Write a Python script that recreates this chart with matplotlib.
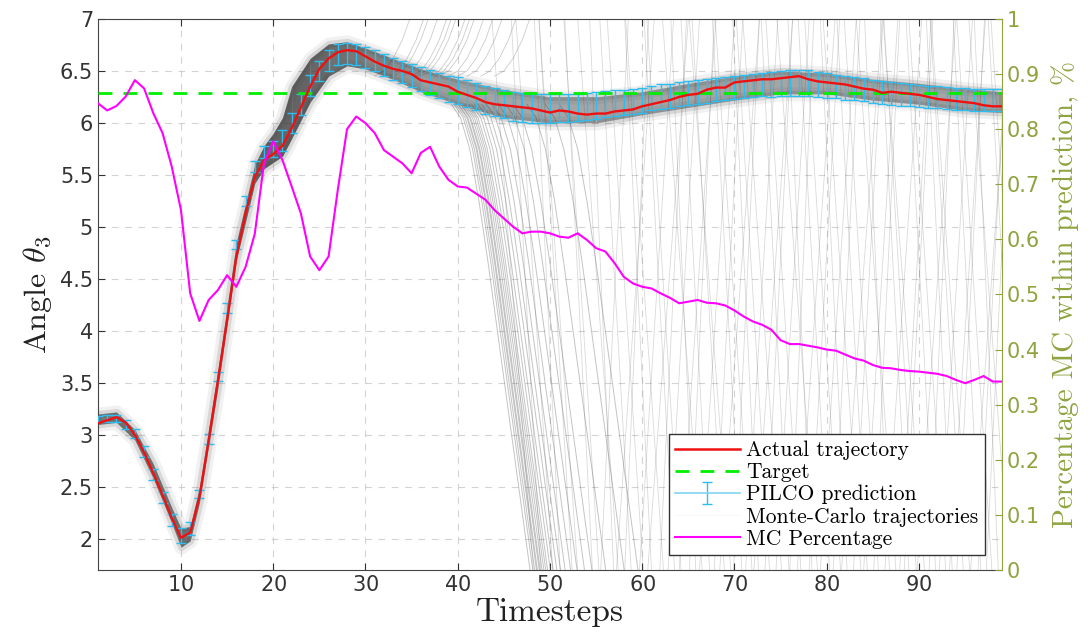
import numpy as np
import matplotlib
matplotlib.use('Agg')
import matplotlib.pyplot as plt
from matplotlib.lines import Line2D

# ---- datos ----
timesteps = np.arange(1, 100)

actual = [3.11, 3.14, 3.17, 3.12, 3.00, 2.83, 2.63, 2.42, 2.20, 2.01,
          2.06, 2.40, 2.94, 3.52, 4.10, 4.71, 5.13, 5.48, 5.64, 5.70,
          5.78, 5.95, 6.15, 6.35, 6.52, 6.62, 6.68, 6.70, 6.69, 6.64,
          6.59, 6.55, 6.52, 6.50, 6.47, 6.41, 6.39, 6.37, 6.35, 6.30,
          6.27, 6.24, 6.20, 6.18, 6.17, 6.16, 6.15, 6.14, 6.12, 6.10,
          6.12, 6.11, 6.09, 6.08, 6.09, 6.09, 6.11, 6.12, 6.13, 6.16,
          6.18, 6.20, 6.22, 6.25, 6.27, 6.28, 6.32, 6.34, 6.34, 6.39,
          6.40, 6.41, 6.42, 6.42, 6.43, 6.44, 6.45, 6.42, 6.40, 6.39,
          6.38, 6.37, 6.35, 6.33, 6.32, 6.29, 6.30, 6.29, 6.28, 6.27,
          6.25, 6.23, 6.22, 6.21, 6.20, 6.19, 6.17, 6.16, 6.16]

pilco_mean = [3.15, 3.16, 3.16, 3.10, 3.01, 2.84, 2.62, 2.40, 2.18, 2.03,
              2.10, 2.43, 2.96, 3.56, 4.22, 4.83, 5.25, 5.58, 5.72, 5.75,
              5.83, 6.00, 6.18, 6.36, 6.50, 6.60, 6.66, 6.67, 6.66, 6.63,
              6.60, 6.56, 6.52, 6.49, 6.46, 6.42, 6.39, 6.36, 6.33, 6.31,
              6.28, 6.25, 6.22, 6.20, 6.18, 6.16, 6.15, 6.14, 6.14, 6.14,
              6.14, 6.14, 6.15, 6.16, 6.17, 6.18, 6.19, 6.20, 6.21, 6.22,
              6.24, 6.25, 6.26, 6.28, 6.29, 6.30, 6.31, 6.32, 6.33, 6.34,
              6.35, 6.36, 6.37, 6.37, 6.38, 6.38, 6.38, 6.38, 6.37, 6.36,
              6.35, 6.34, 6.33, 6.32, 6.30, 6.29, 6.28, 6.27, 6.27, 6.26,
              6.25, 6.25, 6.24, 6.23, 6.23, 6.22, 6.22, 6.22, 6.22]

pilco_err = [0.03, 0.035, 0.035, 0.04, 0.045, 0.05, 0.05, 0.055, 0.06, 0.07,
             0.065, 0.04, 0.045, 0.045, 0.045, 0.045, 0.045, 0.05, 0.06, 0.08,
             0.10, 0.10, 0.10, 0.10, 0.10, 0.10, 0.10, 0.10, 0.10, 0.10,
             0.10, 0.105, 0.105, 0.11, 0.11, 0.115, 0.12, 0.12, 0.125, 0.13,
             0.13, 0.13, 0.135, 0.135, 0.135, 0.14, 0.14, 0.14, 0.14, 0.14,
             0.135, 0.135, 0.13, 0.13, 0.13, 0.125, 0.125, 0.12, 0.12, 0.12,
             0.12, 0.12, 0.115, 0.115, 0.115, 0.115, 0.115, 0.11, 0.11, 0.11,
             0.11, 0.11, 0.115, 0.12, 0.12, 0.125, 0.125, 0.125, 0.12, 0.12,
             0.115, 0.115, 0.11, 0.11, 0.11, 0.11, 0.11, 0.11, 0.105, 0.105,
             0.105, 0.105, 0.105, 0.105, 0.105, 0.105, 0.105, 0.105, 0.105]

mc_percent = [0.847, 0.834, 0.842, 0.859, 0.889, 0.874, 0.829, 0.793, 0.732, 0.653,
              0.502, 0.452, 0.490, 0.508, 0.535, 0.514, 0.550, 0.610, 0.738, 0.778,
              0.744, 0.696, 0.647, 0.569, 0.544, 0.569, 0.690, 0.800, 0.823, 0.811,
              0.793, 0.762, 0.750, 0.738, 0.720, 0.757, 0.768, 0.732, 0.708, 0.696,
              0.694, 0.683, 0.672, 0.653, 0.638, 0.623, 0.611, 0.614, 0.614, 0.611,
              0.605, 0.603, 0.611, 0.599, 0.584, 0.578, 0.557, 0.532, 0.520, 0.514,
              0.511, 0.502, 0.494, 0.484, 0.487, 0.490, 0.485, 0.484, 0.480, 0.471,
              0.460, 0.451, 0.445, 0.436, 0.417, 0.410, 0.410, 0.407, 0.404, 0.400,
              0.398, 0.391, 0.384, 0.380, 0.372, 0.367, 0.366, 0.363, 0.361, 0.360,
              0.358, 0.356, 0.352, 0.345, 0.339, 0.345, 0.352, 0.342, 0.342]

target = 6.2832

# banda densa de trayectorias Monte-Carlo (limites y oscuridad)
mc_t = [1, 3, 5, 7, 9, 10, 11, 12, 14, 16, 18, 19, 20, 21, 22, 24, 26, 28, 30,
        33, 36, 40, 45, 50, 55, 60, 65, 70, 75, 80, 85, 90, 95, 99]
mc_hi = [3.20, 3.22, 3.05, 2.72, 2.30, 2.10, 2.12, 2.50, 3.62, 4.85, 5.60, 5.78, 5.90,
         6.05, 6.35, 6.62, 6.76, 6.78, 6.72, 6.62, 6.52, 6.42, 6.32, 6.25, 6.25, 6.30,
         6.38, 6.45, 6.50, 6.48, 6.42, 6.38, 6.33, 6.30]
mc_lo = [3.10, 3.12, 2.95, 2.58, 2.15, 1.92, 1.98, 2.35, 3.45, 4.68, 5.42, 5.56, 5.62,
         5.68, 5.85, 6.20, 6.45, 6.55, 6.52, 6.42, 6.30, 6.18, 6.05, 6.00, 6.00, 6.08,
         6.15, 6.22, 6.28, 6.28, 6.22, 6.18, 6.12, 6.10]
mc_shade = [0.55, 0.55, 0.55, 0.55, 0.55, 0.6, 0.6, 0.55, 0.55, 0.6, 0.65, 0.7, 0.7,
            0.7, 0.7, 0.7, 0.65, 0.6, 0.55, 0.45, 0.38, 0.32, 0.3, 0.3, 0.3, 0.3,
            0.3, 0.3, 0.3, 0.3, 0.3, 0.3, 0.3, 0.3]

# trayectorias que caen desde la banda (forma y tiempos de inicio)
fall_steps = [0, 1, 2, 3, 4, 5, 6, 7, 8, 9, 10]
fall_angle = [6.18, 6.05, 5.75, 5.25, 4.65, 4.00, 3.35, 2.70, 2.05, 1.40, 0.70]
fall_start = [39.3, 39.6, 39.8, 40.0, 40.1, 40.3, 40.4, 40.6, 40.8, 41.0, 41.2,
              41.5, 41.8, 42.2, 42.6, 43.1, 43.7, 44.4, 45.2, 46.0, 47.5, 49.5, 51.0]

# trayectorias que suben desde la banda
rise_steps = [0, 1, 2, 3, 4, 5]
rise_angle = [6.45, 6.50, 6.62, 6.80, 7.05, 7.35]
rise_start = [31.0, 32.5, 33.0, 34.0, 35.0, 35.5, 36.0, 37.0, 37.5, 38.0, 39.0,
              40.0, 41.0, 42.5, 44.0]

# trayectorias que giran: tiempo en angulo 1.7 y tiempo en angulo 7.0
spin_a_low = [48.2, 49.0, 50.3, 51.1, 52.4, 53.0, 54.6, 55.3, 56.9, 57.4, 58.8, 60.1,
              61.0, 62.3, 63.5, 64.2, 65.8, 66.5, 67.3, 68.9, 69.6, 70.8, 71.9, 72.6,
              73.8, 75.1, 75.9, 77.2, 78.4, 79.0, 80.3, 81.5, 82.2, 83.7, 84.4, 85.6,
              86.8, 87.5, 88.9, 89.7, 90.6, 91.8, 92.9, 93.6, 94.8, 95.5, 96.7, 97.9,
              98.6, 99.8, 100.9, 101.7]
spin_a_high = [43.7, 45.8, 46.3, 48.3, 48.8, 48.8, 51.6, 51.5, 54.3, 53.0, 55.4, 56.2,
               58.1, 58.2, 60.2, 60.5, 63.1, 62.2, 64.2, 65.4, 65.1, 67.6, 67.9, 69.8,
               70.2, 70.9, 72.9, 73.4, 75.8, 74.6, 76.9, 77.6, 79.3, 79.6, 81.1, 81.9,
               84.1, 83.2, 85.8, 86.2, 86.1, 88.6, 88.9, 90.8, 91.2, 91.3, 93.7, 94.1,
               96.0, 95.4, 97.5, 97.8]
spin_b_low = [55.5, 57.2, 58.1, 59.7, 60.6, 61.9, 62.8, 64.0, 65.1, 66.2, 67.8, 68.4,
              69.9, 71.2, 72.1, 73.3, 74.5, 76.0, 76.8, 78.1, 79.3, 80.7, 81.6, 82.9,
              84.0, 85.1, 86.3, 87.9, 88.4, 89.8, 91.1, 92.2, 93.3, 94.1, 95.6, 96.4,
              97.3]
spin_b_high = [58.5, 61.3, 60.7, 63.4, 65.0, 64.8, 66.2, 68.0, 67.8, 70.0, 70.9, 72.7,
               72.7, 74.7, 76.3, 76.3, 78.1, 78.6, 80.9, 81.4, 83.2, 83.6, 86.0, 86.1,
               87.7, 87.9, 90.3, 91.3, 91.5, 94.0, 93.8, 95.8, 97.2, 97.1, 99.9, 99.6,
               100.2]
spin_angle = [1.7, 7.0]

# ---- estilo ----
plt.rcParams['font.family'] = 'DejaVu Sans'
plt.rcParams['mathtext.fontset'] = 'cm'
plt.rcParams['axes.formatter.use_mathtext'] = True

cyan = '#2fbdf0'
olive = '#8fa33f'
dark = '#333333'

fig = plt.figure(figsize=(10.92, 6.32), dpi=100)
ax = fig.add_axes([0.0897, 0.0981, 0.8279, 0.8719])
ax2 = ax.twinx()

# trayectorias Monte-Carlo
for t0, t1 in zip(spin_a_low + spin_b_low, spin_a_high + spin_b_high):
    ax.plot([t0, t1], spin_angle, color='#555555', lw=0.6, alpha=0.22, zorder=1)
for s in fall_start:
    ax.plot(np.array(fall_steps) + s, fall_angle, color='#555555', lw=0.7, alpha=0.35, zorder=1)
for s in rise_start:
    ax.plot(np.array(rise_steps) + s, rise_angle, color='#555555', lw=0.6, alpha=0.3, zorder=1)

# banda densa con borde difuso
ax.fill_between(mc_t, mc_lo, mc_hi, color='#555555', alpha=0.08, lw=10, edgecolor='#555555', zorder=1.5)
ax.fill_between(mc_t, mc_lo, mc_hi, color='#444444', alpha=0.15, lw=5, edgecolor='#444444', zorder=1.6)
for i in range(len(mc_t) - 1):
    ax.fill_between(mc_t[i:i + 2], mc_lo[i:i + 2], mc_hi[i:i + 2], color='#333333',
                    alpha=(mc_shade[i] + mc_shade[i + 1]) / 2, lw=0, zorder=1.7)

# prediccion PILCO
ax.errorbar(timesteps, pilco_mean, yerr=pilco_err, fmt='none', ecolor=cyan,
            elinewidth=1.0, capsize=3.3, capthick=1.0, zorder=3)
ax.axhline(target, color='#00ee00', lw=2, ls=(0, (5, 4)), zorder=4)
ax.plot(timesteps, actual, color='#ee1111', lw=1.7, zorder=5)

# porcentaje MC (eje derecho)
ax2.plot(timesteps, mc_percent, color='#ff00ff', lw=1.5)

# ejes
ax.set_xlim(1, 99)
ax.set_ylim(1.7, 7)
ax2.set_ylim(0, 1)
ax.set_xticks(np.arange(10, 100, 10))
ax.set_yticks(np.arange(2, 7.01, 0.5))
ax.set_yticklabels(['2', '2.5', '3', '3.5', '4', '4.5', '5', '5.5', '6', '6.5', '7'])
ax2.set_yticks(np.arange(0, 1.01, 0.1))
ax2.set_yticklabels(['0', '0.1', '0.2', '0.3', '0.4', '0.5', '0.6', '0.7', '0.8', '0.9', '1'])

ax.grid(True, ls=(0, (6, 6)), color='#c8c8c8', lw=0.8, alpha=0.8)
ax.set_axisbelow(True)
ax.tick_params(axis='both', direction='in', labelsize=15, colors=dark, top=True, length=5)
ax2.tick_params(axis='y', direction='in', labelsize=15, colors=olive, length=5)
for side in ['left', 'bottom', 'top']:
    ax.spines[side].set_color('#444444')
ax2.spines['right'].set_color(olive)
for side in ['left', 'bottom', 'top']:
    ax2.spines[side].set_visible(False)
ax.spines['right'].set_visible(False)

ax.set_xlabel('Timesteps', fontfamily='cmr10', fontsize=24, color='#222222', labelpad=2)
ax.set_ylabel(r'Angle $\theta_3$', fontfamily='cmr10', fontsize=23, color='#222222', labelpad=4)
ax2.set_ylabel('Percentage MC within prediction, %', fontfamily='cmr10', fontsize=21,
               color=olive, labelpad=8)

# leyenda
h_act = Line2D([], [], color='#ee1111', lw=1.8)
h_tar = Line2D([], [], color='#00ee00', lw=2, ls=(0, (5, 4)))
h_pil = ax2.errorbar([np.nan], [np.nan], yerr=[np.nan], color='#80d4f5', ecolor=cyan,
                     lw=1.2, elinewidth=1.0, capsize=3.3)
h_mc = Line2D([], [], color='#f4f4f4', lw=0.5)
h_pct = Line2D([], [], color='#ff00ff', lw=1.5)
leg = ax2.legend([h_act, h_tar, h_pil, h_mc, h_pct],
                 ['Actual trajectory', 'Target', 'PILCO prediction',
                  'Monte-Carlo trajectories', 'MC Percentage'],
                 loc='lower right', bbox_to_anchor=(0.981, 0.027), borderaxespad=0,
                 prop={'family': 'cmr10', 'size': 15.5}, handlelength=3.0,
                 handletextpad=0.3, labelspacing=0.12, borderpad=0.3,
                 fancybox=False, framealpha=1, edgecolor='#333333')
leg.get_frame().set_linewidth(1.0)

fig.savefig('out.png', dpi=100)
